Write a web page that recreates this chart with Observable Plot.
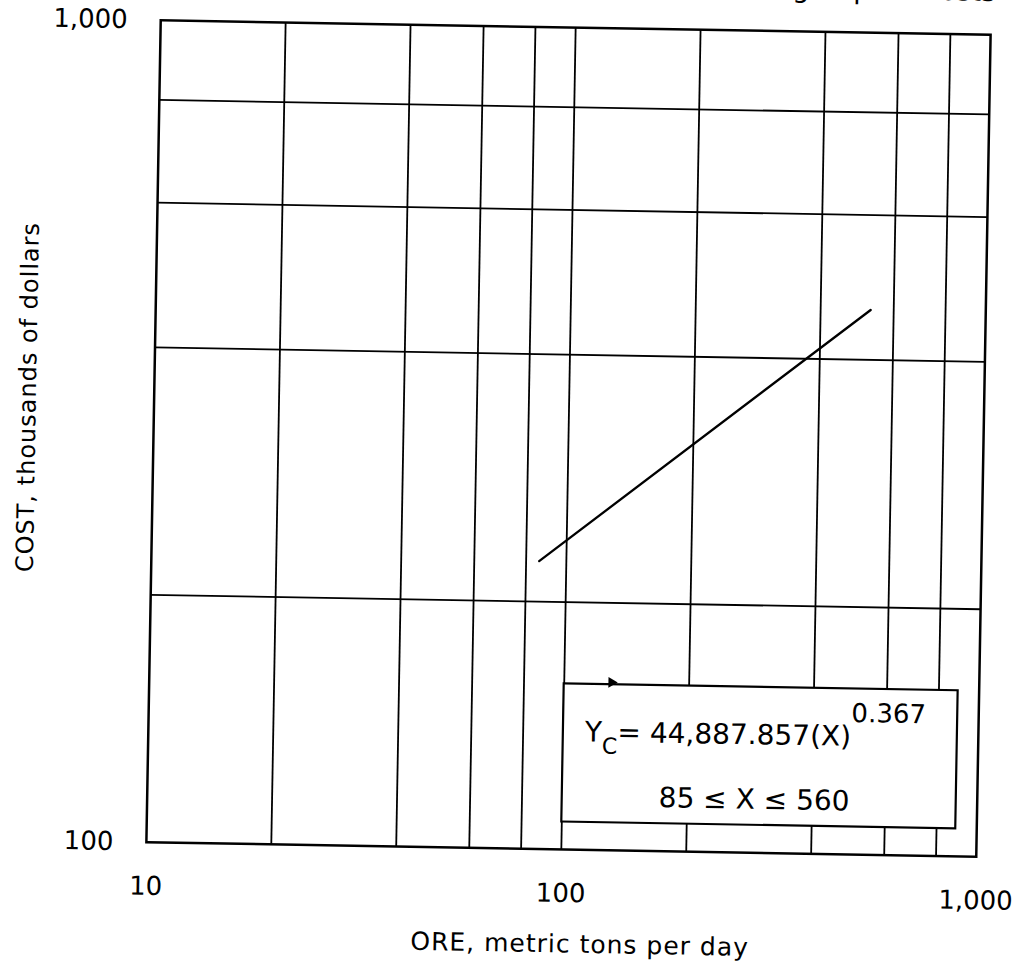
<!DOCTYPE html>
<html>
<head>
<meta charset="utf-8">
<script src="https://cdn.jsdelivr.net/npm/d3@7"></script>
<script src="https://cdn.jsdelivr.net/npm/@observablehq/plot@0.6"></script>
<style>
  html, body { margin: 0; padding: 0; background: #fff; overflow: hidden; }
  #chart svg { display: block; overflow: visible; transform: rotate(1deg); transform-origin: 568px 438px; }
</style>
</head>
<body>
<div id="chart"></div>
<script>
// Data
const xTicks = [10, 100, 1000];
const yTicks = [100, 1000];
const xGrid = [20, 40, 60, 80, 100, 200, 400, 600, 800];
const yGrid = [200, 400, 600, 800];
const ore = [86, 528];            // metric tons per day
const cost = [224, 460];          // thousands of dollars
const title = "Mining Capital Costs";
const xLabel = "ORE, metric tons per day";
const yLabel = "COST, thousands of dollars";
const boxX = [100, 890];
const boxY = [108, 159];
const noteX = [290, 290];
const noteY = [139, 116];
const noteText = ["EQ", "85 \u2264 X \u2264 560"];
const arrowX = [130];
const arrowY = [160];

const line = ore.map((x, i) => ({x, y: cost[i]}));
const notes = noteText.map((t, i) => ({x: noteX[i], y: noteY[i], t}));
const arrow = arrowX.map((x, i) => ({x, y: arrowY[i]}));

const font = "'DejaVu Sans', sans-serif";

const plot = Plot.plot({
  width: 1017,
  height: 972,
  marginLeft: 153,
  marginRight: 34,
  marginTop: 27,
  marginBottom: 123,
  style: {fontFamily: font, fontSize: "26px", color: "#000", background: "#fff", overflow: "visible"},
  x: {type: "log", domain: [10, 1000], ticks: xTicks, tickFormat: ",", label: null},
  y: {type: "log", domain: [100, 1000], ticks: yTicks, tickFormat: ",", label: null},
  marks: [
    Plot.ruleX(xGrid, {stroke: "#000", strokeWidth: 1.8}),
    Plot.ruleY(yGrid, {stroke: "#000", strokeWidth: 1.8}),
    Plot.line(line, {x: "x", y: "y", stroke: "#000", strokeWidth: 2.3}),
    Plot.rect([{x1: boxX[0], x2: boxX[1], y1: boxY[0], y2: boxY[1]}], {x1: "x1", x2: "x2", y1: "y1", y2: "y2", fill: "#fff", stroke: "#000", strokeWidth: 2.2}),
    Plot.dot(arrow, {x: "x", y: "y", symbol: "triangle", rotate: 90, r: 4, fill: "#000", stroke: "none"}),
    Plot.text(notes, {x: "x", y: "y", text: "t", fontSize: 28, fill: "#000"}),
    Plot.frame({stroke: "#000", strokeWidth: 2.5}),
    Plot.axisX({ticks: xTicks, tickFormat: ",", tickSize: 0, tickPadding: 34, fontSize: 26, label: null}),
    Plot.axisY({ticks: yTicks, tickFormat: ",", tickSize: 0, tickPadding: 33, fontSize: 26, label: null}),
    Plot.text([xLabel], {frameAnchor: "bottom", dx: 20, dy: 103, fontSize: 25, fill: "#000"}),
    Plot.text([yLabel], {frameAnchor: "left", textAnchor: "middle", dx: -126, dy: -32, rotate: -90, fontSize: 24, fill: "#000"}),
    Plot.text([title], {frameAnchor: "top-right", dx: 4, dy: -34, textAnchor: "end", lineAnchor: "bottom", fontSize: 27, fill: "#000"})
  ]
});

// Letter spacing for axis titles; equation with subscript / superscript
d3.select(plot).selectAll("text").filter(function () { return this.textContent === xLabel || this.textContent === yLabel; })
  .attr("letter-spacing", "1");
d3.select(plot).selectAll("text").filter(function () { return this.textContent === "EQ"; })
  .each(function () {
    const t = d3.select(this);
    t.text(null);
    t.append("tspan").text("Y");
    t.append("tspan").attr("dy", 12).attr("font-size", 22).text("C");
    t.append("tspan").attr("dy", -12).text("= 44,887.857(X)");
    t.append("tspan").attr("dy", -24).attr("font-size", 26).text("0.367");
  });

document.getElementById("chart").append(plot);
</script>
</body>
</html>
